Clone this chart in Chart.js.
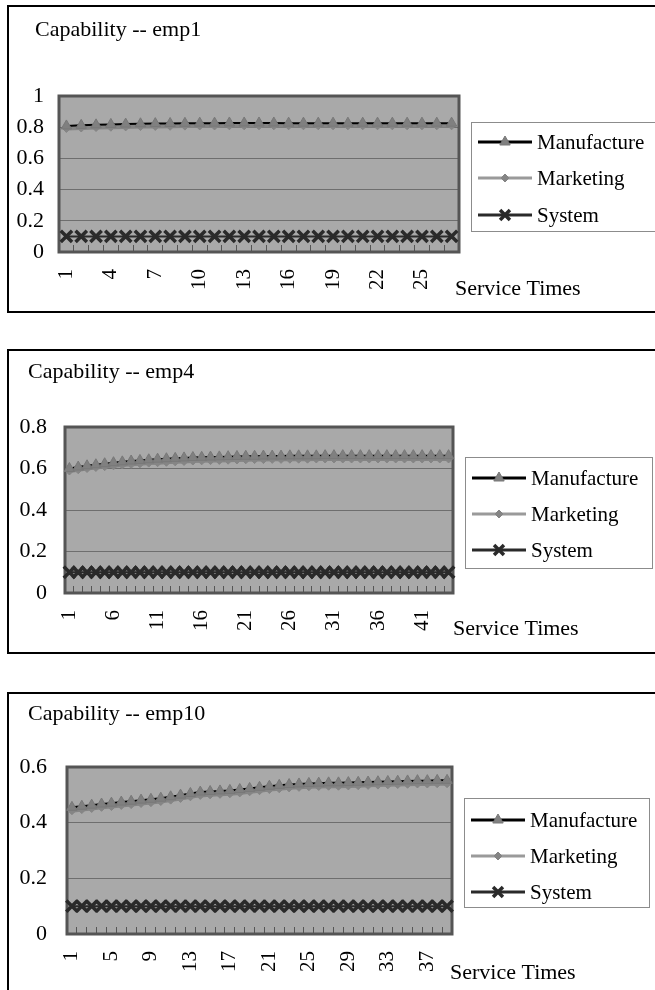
<!DOCTYPE html>
<html>
<head>
<meta charset="utf-8">
<script src="https://cdn.jsdelivr.net/npm/chart.js@4.4.1/dist/chart.umd.min.js"></script>
<style>
  html, body { margin: 0; padding: 0; background: #fff; }
  body { width: 655px; height: 990px; position: relative; overflow: hidden; }
  .frame { position: absolute; border: 2px solid #000; box-sizing: border-box; }
  canvas { position: absolute; left: 0; }
</style>
</head>
<body>
<div class="frame" style="left:7px;top:5px;width:700px;height:308px"></div>
<div class="frame" style="left:7px;top:349px;width:700px;height:305px"></div>
<div class="frame" style="left:7px;top:692px;width:700px;height:330px"></div>
<canvas id="c1" width="655" height="340" style="top:0"></canvas>
<canvas id="c2" width="655" height="340" style="top:340px"></canvas>
<canvas id="c3" width="655" height="310" style="top:680px"></canvas>
<script>
// ---- emp1 ----
const emp1Times = [1,2,3,4,5,6,7,8,9,10,11,12,13,14,15,16,17,18,19,20,21,22,23,24,25,26,27];
const emp1Manufacture = [0.808,0.812,0.815,0.818,0.820,0.822,0.823,0.824,0.825,0.826,0.826,0.827,0.827,0.827,0.827,0.826,0.826,0.826,0.826,0.826,0.826,0.826,0.826,0.826,0.826,0.826,0.826];
const emp1Marketing = [0.792,0.795,0.798,0.800,0.802,0.804,0.805,0.806,0.807,0.808,0.808,0.809,0.809,0.809,0.809,0.809,0.809,0.809,0.809,0.809,0.809,0.809,0.809,0.809,0.809,0.809,0.809];
const emp1System = [0.1,0.1,0.1,0.1,0.1,0.1,0.1,0.1,0.1,0.1,0.1,0.1,0.1,0.1,0.1,0.1,0.1,0.1,0.1,0.1,0.1,0.1,0.1,0.1,0.1,0.1,0.1];

// ---- emp4 ----
const emp4Times = [1,2,3,4,5,6,7,8,9,10,11,12,13,14,15,16,17,18,19,20,21,22,23,24,25,26,27,28,29,30,31,32,33,34,35,36,37,38,39,40,41,42,43,44];
const emp4Manufacture = [0.600,0.607,0.613,0.618,0.623,0.628,0.632,0.636,0.639,0.642,0.645,0.647,0.649,0.651,0.653,0.654,0.655,0.656,0.657,0.658,0.659,0.659,0.660,0.660,0.660,0.661,0.661,0.661,0.661,0.662,0.662,0.662,0.662,0.662,0.662,0.662,0.662,0.662,0.662,0.662,0.662,0.662,0.662,0.662];
const emp4Marketing = [0.588,0.594,0.600,0.605,0.609,0.613,0.617,0.620,0.623,0.626,0.628,0.630,0.632,0.634,0.636,0.637,0.638,0.639,0.640,0.641,0.642,0.643,0.643,0.644,0.644,0.645,0.645,0.645,0.646,0.646,0.646,0.646,0.646,0.646,0.646,0.646,0.646,0.646,0.646,0.646,0.646,0.646,0.646,0.646];
const emp4System = [0.1,0.1,0.1,0.1,0.1,0.1,0.1,0.1,0.1,0.1,0.1,0.1,0.1,0.1,0.1,0.1,0.1,0.1,0.1,0.1,0.1,0.1,0.1,0.1,0.1,0.1,0.1,0.1,0.1,0.1,0.1,0.1,0.1,0.1,0.1,0.1,0.1,0.1,0.1,0.1,0.1,0.1,0.1,0.1];

// ---- emp10 ----
const emp10Times = [1,2,3,4,5,6,7,8,9,10,11,12,13,14,15,16,17,18,19,20,21,22,23,24,25,26,27,28,29,30,31,32,33,34,35,36,37,38,39];
const emp10Manufacture = [0.455,0.459,0.463,0.467,0.470,0.474,0.477,0.481,0.484,0.488,0.493,0.499,0.505,0.510,0.512,0.514,0.516,0.519,0.523,0.527,0.531,0.534,0.537,0.539,0.541,0.542,0.543,0.543,0.544,0.545,0.546,0.547,0.548,0.549,0.550,0.551,0.551,0.552,0.552];
const emp10Marketing = [0.443,0.447,0.451,0.455,0.458,0.462,0.465,0.469,0.472,0.476,0.481,0.487,0.493,0.498,0.500,0.502,0.504,0.507,0.511,0.515,0.519,0.522,0.525,0.527,0.529,0.530,0.531,0.531,0.532,0.533,0.534,0.535,0.536,0.537,0.538,0.539,0.539,0.540,0.540];
const emp10System = [0.1,0.1,0.1,0.1,0.1,0.1,0.1,0.1,0.1,0.1,0.1,0.1,0.1,0.1,0.1,0.1,0.1,0.1,0.1,0.1,0.1,0.1,0.1,0.1,0.1,0.1,0.1,0.1,0.1,0.1,0.1,0.1,0.1,0.1,0.1,0.1,0.1,0.1,0.1];

const seriesNames = ['Manufacture', 'Marketing', 'System'];
const axisLabel = 'Service Times';

const FONT = "'Liberation Serif', 'Times New Roman', serif";
const PLOT_BG = '#a9a9a9';

// Plot background, plot border, title, axis caption and boxed legend
const deco = {
  id: 'deco',
  beforeDraw(chart) {
    const a = chart.chartArea, ctx = chart.ctx;
    ctx.save();
    ctx.fillStyle = PLOT_BG;
    ctx.fillRect(a.left, a.top, a.right - a.left, a.bottom - a.top);
    ctx.restore();
  },
  beforeDatasetsDraw(chart) {
    const a = chart.chartArea, ctx = chart.ctx;
    ctx.save();
    ctx.strokeStyle = '#555';
    ctx.lineWidth = 3;
    ctx.strokeRect(a.left, a.top, a.right - a.left, a.bottom - a.top);
    ctx.restore();
  },
  afterDraw(chart, args, o) {
    const ctx = chart.ctx;
    ctx.save();
    ctx.fillStyle = '#000';
    ctx.textBaseline = 'alphabetic';
    ctx.textAlign = 'left';
    ctx.font = '22px ' + FONT;
    ctx.fillText(o.title, o.titleX, o.titleY);
    ctx.textBaseline = 'middle';
    ctx.font = '22px ' + FONT;
    ctx.fillText(o.axisLabel, o.axisX, o.axisY);

    // legend
    const b = o.legend;
    ctx.strokeStyle = '#8c8c8c';
    ctx.lineWidth = 1;
    ctx.strokeRect(b.x + 0.5, b.y + 0.5, b.w, b.h);
    chart.data.datasets.forEach((ds, i) => {
      const y = b.items[i];
      const x0 = b.x + 7, x1 = b.x + 61;
      ctx.strokeStyle = ds.legendLine;
      ctx.lineWidth = 3;
      ctx.beginPath();
      ctx.moveTo(x0, y);
      ctx.lineTo(x1, y);
      ctx.stroke();
      ctx.fillStyle = ds.pointBackgroundColor;
      ctx.strokeStyle = ds.pointBorderColor;
      ctx.lineWidth = ds.pointBorderWidth;
      Chart.helpers.drawPoint(ctx, {
        pointStyle: ds.pointStyle,
        radius: ds.pointStyle === 'crossRot' ? 7 : ds.pointRadius,
        rotation: 0,
        borderWidth: ds.pointBorderWidth
      }, (x0 + x1) / 2, y);
      ctx.fillStyle = '#000';
      ctx.font = '21px ' + FONT;
      ctx.textAlign = 'left';
      ctx.textBaseline = 'middle';
      ctx.fillText(ds.label, b.x + 66, y + 1);
    });
    ctx.restore();
  }
};

function datasets(man, mkt, sys) {
  return [
    {
      label: seriesNames[0], data: man,
      borderColor: '#000', borderWidth: 2, legendLine: '#000',
      pointStyle: 'triangle', pointRadius: 6,
      pointBackgroundColor: '#808080', pointBorderColor: '#787878', pointBorderWidth: 1
    },
    {
      label: seriesNames[1], data: mkt,
      borderColor: '#858585', borderWidth: 4, legendLine: '#9a9a9a',
      pointStyle: 'rectRot', pointRadius: 4,
      pointBackgroundColor: '#858585', pointBorderColor: '#858585', pointBorderWidth: 1
    },
    {
      label: seriesNames[2], data: sys,
      borderColor: '#2a2a2a', borderWidth: 2, legendLine: '#2a2a2a',
      pointStyle: 'crossRot', pointRadius: 8,
      pointBackgroundColor: '#2a2a2a', pointBorderColor: '#2a2a2a', pointBorderWidth: 3.5
    }
  ];
}

function makeChart(id, cfg) {
  const canvas = document.getElementById(id);
  return new Chart(canvas, {
    type: 'line',
    data: { labels: cfg.labels, datasets: datasets(cfg.man, cfg.mkt, cfg.sys) },
    plugins: [deco],
    options: {
      responsive: false,
      animation: false,
      devicePixelRatio: 1,
      events: [],
      layout: { padding: { top: cfg.area.top, right: canvas.width - cfg.area.right, bottom: 0, left: 0 } },
      plugins: {
        legend: { display: false },
        tooltip: { enabled: false },
        deco: {
          title: cfg.title, titleX: cfg.titleX, titleY: cfg.titleY,
          axisLabel: axisLabel, axisX: cfg.axisX, axisY: cfg.axisY,
          legend: cfg.legend
        }
      },
      scales: {
        x: {
          type: 'category',
          offset: true,
          border: { display: false },
          grid: { display: true, drawOnChartArea: false, drawTicks: true, tickLength: -7, offset: true, color: '#555', lineWidth: 1 },
          ticks: {
            autoSkip: false, minRotation: 90, maxRotation: 90, padding: 24,
            color: '#000', font: { family: FONT, size: 21 },
            callback: function (v, i) { return i % cfg.every === 0 ? this.getLabelForValue(v) : ''; }
          },
          afterFit: s => { s.height = canvas.height - cfg.area.bottom; }
        },
        y: {
          min: 0, max: cfg.yMax,
          border: { display: false },
          grid: { color: '#6e6e6e', lineWidth: 1, drawTicks: false },
          ticks: {
            stepSize: 0.2, padding: cfg.yPad, color: '#000', font: { family: FONT, size: 22 },
            callback: v => String(+v.toFixed(2))
          },
          afterFit: s => { s.width = cfg.area.left; }
        }
      }
    }
  });
}

makeChart('c1', {
  labels: emp1Times, man: emp1Manufacture, mkt: emp1Marketing, sys: emp1System,
  every: 3, yMax: 1, yPad: 15,
  area: { left: 59, top: 96, right: 459, bottom: 252 },
  title: 'Capability -- emp1', titleX: 35, titleY: 36,
  axisX: 455, axisY: 289,
  legend: { x: 471, y: 122, w: 184, h: 109, items: [142, 178, 215] }
});

makeChart('c2', {
  labels: emp4Times, man: emp4Manufacture, mkt: emp4Marketing, sys: emp4System,
  every: 5, yMax: 0.8, yPad: 18,
  area: { left: 65, top: 87, right: 453, bottom: 253 },
  title: 'Capability -- emp4', titleX: 28, titleY: 38,
  axisX: 453, axisY: 289,
  legend: { x: 465, y: 117, w: 187, h: 111, items: [138, 174, 210] }
});

makeChart('c3', {
  labels: emp10Times, man: emp10Manufacture, mkt: emp10Marketing, sys: emp10System,
  every: 4, yMax: 0.6, yPad: 20,
  area: { left: 67, top: 87, right: 452, bottom: 254 },
  title: 'Capability -- emp10', titleX: 28, titleY: 40,
  axisX: 450, axisY: 293,
  legend: { x: 464, y: 118, w: 185, h: 109, items: [140, 176, 212] }
});
</script>
</body>
</html>
